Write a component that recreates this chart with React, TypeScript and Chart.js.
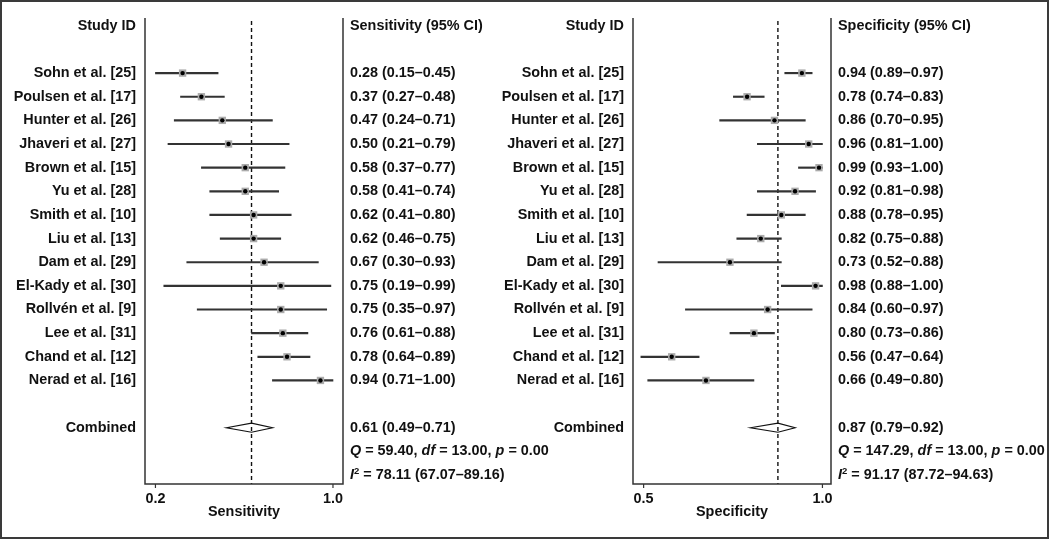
import React, { useEffect, useRef } from "react";
import { Chart, registerables } from "chart.js";

Chart.register(...registerables);

// ---------- data ----------
const STUDIES = [
  "Sohn et al. [25]",
  "Poulsen et al. [17]",
  "Hunter et al. [26]",
  "Jhaveri et al. [27]",
  "Brown et al. [15]",
  "Yu et al. [28]",
  "Smith et al. [10]",
  "Liu et al. [13]",
  "Dam et al. [29]",
  "El-Kady et al. [30]",
  "Rollvén et al. [9]",
  "Lee et al. [31]",
  "Chand et al. [12]",
  "Nerad et al. [16]",
];

const SENS = [0.28, 0.37, 0.47, 0.5, 0.58, 0.58, 0.62, 0.62, 0.67, 0.75, 0.75, 0.76, 0.78, 0.94];
const SENS_LO = [0.15, 0.27, 0.24, 0.21, 0.37, 0.41, 0.41, 0.46, 0.3, 0.19, 0.35, 0.61, 0.64, 0.71];
const SENS_HI = [0.45, 0.48, 0.71, 0.79, 0.77, 0.74, 0.8, 0.75, 0.93, 0.99, 0.97, 0.88, 0.89, 1.0];
const SENS_POOLED = [0.61, 0.49, 0.71]; // estimate, lower, upper
const SENS_Q = [59.4, 13.0, 0.0]; // Q, df, p
const SENS_I2 = [78.11, 67.07, 89.16];
const SENS_TICK_VALUES = [0.15, 1.0];
const SENS_TICK_LABELS = ["0.2", "1.0"];

const SPEC = [0.94, 0.78, 0.86, 0.96, 0.99, 0.92, 0.88, 0.82, 0.73, 0.98, 0.84, 0.8, 0.56, 0.66];
const SPEC_LO = [0.89, 0.74, 0.7, 0.81, 0.93, 0.81, 0.78, 0.75, 0.52, 0.88, 0.6, 0.73, 0.47, 0.49];
const SPEC_HI = [0.97, 0.83, 0.95, 1.0, 1.0, 0.98, 0.95, 0.88, 0.88, 1.0, 0.97, 0.86, 0.64, 0.8];
const SPEC_POOLED = [0.87, 0.79, 0.92];
const SPEC_Q = [147.29, 13.0, 0.0];
const SPEC_I2 = [91.17, 87.72, 94.63];
const SPEC_TICK_VALUES = [0.478, 1.0];
const SPEC_TICK_LABELS = ["0.5", "1.0"];

// row layout (in row units)
const HEADER_ROW = -2;
const POOLED_ROW = 15;
const Q_ROW = 16;
const I2_ROW = 17;

const FONT = '"Liberation Sans", Arial, Helvetica, sans-serif';
const BOLD = `bold 14.4px ${FONT}`;
const BOLD_IT = `italic bold 14.4px ${FONT}`;
const SUP = `bold 9.5px ${FONT}`;
const INK = "#111";
const LINE = "#333";

const W = 1050;
const H = 540;

type Seg = [string, string, number?];

function drawSegs(ctx: CanvasRenderingContext2D, x: number, y: number, segs: Seg[]) {
  let cx = x;
  ctx.textAlign = "left";
  for (const [t, f, dy] of segs) {
    ctx.font = f;
    ctx.fillText(t, cx, y + (dy || 0));
    cx += ctx.measureText(t).width;
  }
}

const ci = (v: number, lo: number, hi: number) =>
  `${v.toFixed(2)} (${lo.toFixed(2)}–${hi.toFixed(2)})`;

interface PanelCfg {
  left: number;
  right: number;
  xMin: number;
  xMax: number;
  est: number[];
  lo: number[];
  hi: number[];
  pooled: number[];
  q: number[];
  i2: number[];
  header: string;
  axisTitle: string;
  tickValues: number[];
  tickLabels: string[];
  frame: boolean;
}

function makePanel(canvas: HTMLCanvasElement, c: PanelCfg) {
  const rows = c.est.map((_, i) => i);

  const plugin = {
    id: "forest",
    beforeDatasetsDraw(chart: any) {
      const ctx: CanvasRenderingContext2D = chart.ctx;
      const a = chart.chartArea;
      const xs = chart.scales.x;
      ctx.save();
      // dashed pooled line
      const px = xs.getPixelForValue(c.pooled[0]);
      ctx.strokeStyle = "#111";
      ctx.lineWidth = 1.4;
      ctx.setLineDash([4, 3]);
      ctx.beginPath();
      ctx.moveTo(px, a.top + 3);
      ctx.lineTo(px, a.bottom);
      ctx.stroke();
      ctx.setLineDash([]);
      ctx.restore();
    },
    afterDatasetsDraw(chart: any) {
      const ctx: CanvasRenderingContext2D = chart.ctx;
      const a = chart.chartArea;
      const xs = chart.scales.x;
      const ys = chart.scales.y;
      ctx.save();
      // axes frame (left, right, bottom)
      ctx.strokeStyle = LINE;
      ctx.lineWidth = 1.5;
      ctx.beginPath();
      ctx.moveTo(a.left, a.top);
      ctx.lineTo(a.left, a.bottom);
      ctx.lineTo(a.right, a.bottom);
      ctx.lineTo(a.right, a.top);
      ctx.stroke();
      // ticks
      ctx.lineWidth = 1.2;
      ctx.fillStyle = INK;
      ctx.font = BOLD;
      ctx.textAlign = "center";
      ctx.textBaseline = "middle";
      c.tickValues.forEach((v, i) => {
        const tx = xs.getPixelForValue(v);
        ctx.beginPath();
        ctx.moveTo(tx, a.bottom);
        ctx.lineTo(tx, a.bottom + 4);
        ctx.stroke();
        ctx.fillText(c.tickLabels[i], tx, a.bottom + 15);
      });
      ctx.fillText(c.axisTitle, (a.left + a.right) / 2, a.bottom + 28);

      // pooled diamond
      const dy = ys.getPixelForValue(POOLED_ROW);
      ctx.strokeStyle = "#111";
      ctx.lineWidth = 1.2;
      ctx.beginPath();
      ctx.moveTo(xs.getPixelForValue(c.pooled[1]), dy);
      ctx.lineTo(xs.getPixelForValue(c.pooled[0]), dy - 4.5);
      ctx.lineTo(xs.getPixelForValue(c.pooled[2]), dy);
      ctx.lineTo(xs.getPixelForValue(c.pooled[0]), dy + 4.5);
      ctx.closePath();
      ctx.stroke();

      // texts
      const nameX = a.left - 9;
      const valX = a.right + 7;
      ctx.font = BOLD;
      ctx.textAlign = "right";
      ctx.fillText("Study ID", nameX, ys.getPixelForValue(HEADER_ROW));
      STUDIES.forEach((s, i) => ctx.fillText(s, nameX, ys.getPixelForValue(i)));
      ctx.fillText("Combined", nameX, ys.getPixelForValue(POOLED_ROW));

      ctx.textAlign = "left";
      ctx.fillText(c.header, valX, ys.getPixelForValue(HEADER_ROW));
      c.est.forEach((v, i) =>
        ctx.fillText(ci(v, c.lo[i], c.hi[i]), valX, ys.getPixelForValue(i))
      );
      ctx.fillText(ci(c.pooled[0], c.pooled[1], c.pooled[2]), valX, dy);
      drawSegs(ctx, valX, ys.getPixelForValue(Q_ROW), [
        ["Q", BOLD_IT],
        [` = ${c.q[0].toFixed(2)}, `, BOLD],
        ["df", BOLD_IT],
        [` = ${c.q[1].toFixed(2)}, `, BOLD],
        ["p", BOLD_IT],
        [` = ${c.q[2].toFixed(2)}`, BOLD],
      ]);
      drawSegs(ctx, valX, ys.getPixelForValue(I2_ROW), [
        ["I", BOLD_IT],
        ["2", SUP, -4],
        [` = ${c.i2[0].toFixed(2)} (${c.i2[1].toFixed(2)}–${c.i2[2].toFixed(2)})`, BOLD],
      ]);

      if (c.frame) {
        ctx.strokeStyle = "#3a3a3a";
        ctx.lineWidth = 2;
        ctx.strokeRect(1, 1, W - 3, H - 3);
      }
      ctx.restore();
    },
  };

  return new Chart(canvas, {
    type: "scatter",
    data: {
      datasets: [
        {
          type: "scatter",
          data: rows.map((i) => ({ x: c.est[i], y: i })),
          pointStyle: "circle",
          pointRadius: 2.2,
          pointBorderWidth: 0,
          backgroundColor: "#000",
        },
        {
          type: "scatter",
          data: rows.map((i) => ({ x: c.est[i], y: i })),
          pointStyle: "rect",
          pointRadius: 5.2,
          pointBorderWidth: 0,
          backgroundColor: "#ababab",
        },
        {
          type: "bar",
          indexAxis: "y",
          data: rows.map((i) => ({ x: [c.lo[i], c.hi[i]], y: i })) as any,
          backgroundColor: LINE,
          borderWidth: 0,
          barThickness: 1.5,
        } as any,
      ],
    },
    options: {
      responsive: false,
      animation: false,
      devicePixelRatio: 1,
      events: [],
      layout: {
        padding: { left: c.left, right: W - c.right, top: 18, bottom: H - 484 },
      },
      plugins: { legend: { display: false }, tooltip: { enabled: false } },
      scales: {
        x: { type: "linear", min: c.xMin, max: c.xMax, offset: false, display: false },
        y: {
          type: "linear",
          min: -2.33,
          max: 17.38,
          reverse: true,
          offset: false,
          display: false,
        },
      },
    },
    plugins: [plugin],
  } as any);
}

export default function App() {
  const leftRef = useRef<HTMLCanvasElement>(null);
  const rightRef = useRef<HTMLCanvasElement>(null);

  useEffect(() => {
    const c1 = makePanel(leftRef.current!, {
      left: 145,
      right: 343,
      xMin: 0.1,
      xMax: 1.048,
      est: SENS,
      lo: SENS_LO,
      hi: SENS_HI,
      pooled: SENS_POOLED,
      q: SENS_Q,
      i2: SENS_I2,
      header: "Sensitivity (95% CI)",
      axisTitle: "Sensitivity",
      tickValues: SENS_TICK_VALUES,
      tickLabels: SENS_TICK_LABELS,
      frame: true,
    });
    const c2 = makePanel(rightRef.current!, {
      left: 633,
      right: 831,
      xMin: 0.447,
      xMax: 1.025,
      est: SPEC,
      lo: SPEC_LO,
      hi: SPEC_HI,
      pooled: SPEC_POOLED,
      q: SPEC_Q,
      i2: SPEC_I2,
      header: "Specificity (95% CI)",
      axisTitle: "Specificity",
      tickValues: SPEC_TICK_VALUES,
      tickLabels: SPEC_TICK_LABELS,
      frame: false,
    });
    return () => {
      c1.destroy();
      c2.destroy();
    };
  }, []);

  const cs: React.CSSProperties = { position: "absolute", left: 0, top: 0, width: W, height: H };
  return (
    <div style={{ position: "absolute", left: 0, top: 0, width: W, height: H, background: "#fff" }}>
      <canvas ref={leftRef} width={W} height={H} style={cs} />
      <canvas ref={rightRef} width={W} height={H} style={cs} />
    </div>
  );
}
